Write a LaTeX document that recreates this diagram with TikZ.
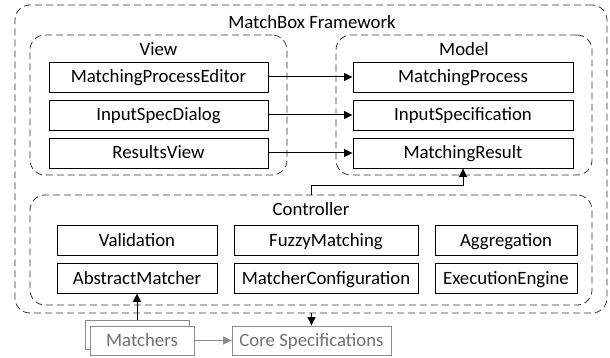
\documentclass[tikz,border=0pt]{standalone}
\usepackage{fontspec}
\setmainfont{Carlito}
\usetikzlibrary{arrows.meta}
\definecolor{gtext}{HTML}{707070}
\definecolor{gline}{HTML}{8A8A8A}
\tikzset{
  lbl/.style={font=\fontsize{18.8}{22}\selectfont},
  box/.style={lbl, draw=black, line width=0.9pt, minimum height=30pt, inner sep=0pt, text height=12pt, text depth=0pt},
  gbox/.style={lbl, draw=gline, fill=white, text=gtext, line width=0.9pt, minimum height=29pt, minimum width=104pt, inner sep=0pt, text height=12pt, text depth=0pt},
  group/.style={draw=black!80, line width=0.8pt, dash pattern=on 7pt off 4pt, rounded corners=15pt, inner sep=0pt},
  ttl/.style={lbl, anchor=base, inner sep=0pt},
  arr/.style={line width=1pt, -{Triangle[length=8.5pt,width=8pt]}},
  garr/.style={draw=gline, line width=1pt, -{Triangle[length=8.5pt,width=8pt]}, gline}
}
\begin{document}
\begin{tikzpicture}[x=1pt,y=-1pt]
\useasboundingbox (0,0) rectangle (610,358);
% groups
\node[group, minimum width=592pt, minimum height=308pt] (frame) at (311,159) {};
\node[group, minimum width=257pt, minimum height=140pt] (view) at (158.5,105) {};
\node[group, minimum width=256pt, minimum height=140pt] (model) at (464,105) {};
\node[group, minimum width=562pt, minimum height=110pt] (ctrl) at (311,250) {};
% titles
\node[ttl] (tframe) at (312,29) {MatchBox Framework};
\node[ttl] (tview) at (158.5,56) {View};
\node[ttl] (tmodel) at (464,56) {Model};
\node[ttl] (tctrl) at (311,215) {Controller};
% view
\node[box, minimum width=219pt] (mpe) at (158.5,77) {MatchingProcessEditor};
\node[box, minimum width=219pt] (isd) at (158.5,115) {InputSpecDialog};
\node[box, minimum width=219pt] (rv) at (158.5,153) {ResultsView};
% model
\node[box, minimum width=220pt] (mp) at (463,77) {MatchingProcess};
\node[box, minimum width=220pt] (is) at (463,115) {InputSpecification};
\node[box, minimum width=220pt] (mr) at (463,153) {MatchingResult};
% controller
\node[box, minimum width=160pt] (val) at (137,240.5) {Validation};
\node[box, minimum width=184pt] (fm) at (326,240.5) {FuzzyMatching};
\node[box, minimum width=142pt] (agg) at (506,240.5) {Aggregation};
\node[box, minimum width=160pt] (am) at (137,278) {AbstractMatcher};
\node[box, minimum width=184pt] (mc) at (326,278) {MatcherConfiguration};
\node[box, minimum width=142pt] (ee) at (506,278) {ExecutionEngine};
% external
\node[gbox] (mback) at (137,334.5) {};
\node[gbox] (mfront) at (142,340.5) {Matchers};
\node[gbox, minimum width=159pt] (core) at (311.5,340.5) {Core Specifications};
% connectors
\draw[arr] (mpe.east) -- (mp.west);
\draw[arr] (isd.east) -- (is.west);
\draw[arr] (rv.east) -- (mr.west);
\draw[arr] (ctrl.north) -- ++(0,-9) -| (mr.south);
\draw[arr] (mback.north) -- (am.south);
\draw[arr] (core.north |- frame.south) -- (core.north);
\draw[garr] (mfront.east) -- (core.west);
\end{tikzpicture}
\end{document}
